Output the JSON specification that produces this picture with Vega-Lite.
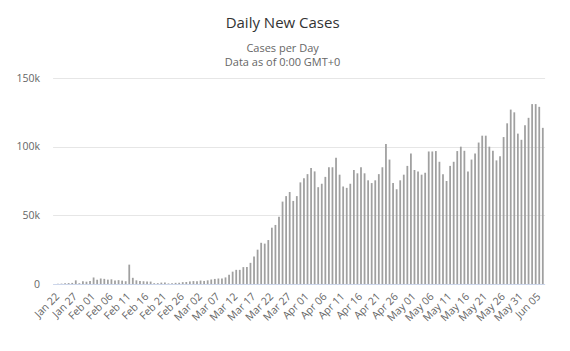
{
 "$schema": "https://vega.github.io/schema/vega-lite/v6.json",
 "width": 492,
 "height": 206,
 "autosize": "none",
 "padding": {"left": 52.6, "top": 78, "right": 25.4, "bottom": 67},
 "background": "white",
 "title": {
  "text": "Daily New Cases",
  "subtitle": ["Cases per Day", "Data as of 0:00 GMT+0"],
  "anchor": "middle",
  "frame": "group",
  "dx": -16,
  "font": "Open Sans",
  "fontSize": 15,
  "fontWeight": "normal",
  "color": "#333333",
  "subtitleFont": "Open Sans",
  "subtitleFontSize": 11,
  "subtitleColor": "#666666",
  "subtitlePadding": 12,
  "subtitleLineHeight": 14,
  "offset": 5
 },
 "data": {"values": [
  {"date": "Jan 22", "cases": 17},
  {"date": "Jan 23", "cases": 98},
  {"date": "Jan 24", "cases": 287},
  {"date": "Jan 25", "cases": 493},
  {"date": "Jan 26", "cases": 684},
  {"date": "Jan 27", "cases": 809},
  {"date": "Jan 28", "cases": 2651},
  {"date": "Jan 29", "cases": 588},
  {"date": "Jan 30", "cases": 2068},
  {"date": "Jan 31", "cases": 1693},
  {"date": "Feb 01", "cases": 2111},
  {"date": "Feb 02", "cases": 4749},
  {"date": "Feb 03", "cases": 3094},
  {"date": "Feb 04", "cases": 4011},
  {"date": "Feb 05", "cases": 3743},
  {"date": "Feb 06", "cases": 3160},
  {"date": "Feb 07", "cases": 3418},
  {"date": "Feb 08", "cases": 2607},
  {"date": "Feb 09", "cases": 2818},
  {"date": "Feb 10", "cases": 2446},
  {"date": "Feb 11", "cases": 2026},
  {"date": "Feb 12", "cases": 14100},
  {"date": "Feb 13", "cases": 4500},
  {"date": "Feb 14", "cases": 2664},
  {"date": "Feb 15", "cases": 2098},
  {"date": "Feb 16", "cases": 2012},
  {"date": "Feb 17", "cases": 1870},
  {"date": "Feb 18", "cases": 1762},
  {"date": "Feb 19", "cases": 584},
  {"date": "Feb 20", "cases": 608},
  {"date": "Feb 21", "cases": 1019},
  {"date": "Feb 22", "cases": 1099},
  {"date": "Feb 23", "cases": 427},
  {"date": "Feb 24", "cases": 563},
  {"date": "Feb 25", "cases": 837},
  {"date": "Feb 26", "cases": 895},
  {"date": "Feb 27", "cases": 1347},
  {"date": "Feb 28", "cases": 1461},
  {"date": "Feb 29", "cases": 1876},
  {"date": "Mar 01", "cases": 2126},
  {"date": "Mar 02", "cases": 1922},
  {"date": "Mar 03", "cases": 2519},
  {"date": "Mar 04", "cases": 2235},
  {"date": "Mar 05", "cases": 2668},
  {"date": "Mar 06", "cases": 3300},
  {"date": "Mar 07", "cases": 3700},
  {"date": "Mar 08", "cases": 4000},
  {"date": "Mar 09", "cases": 4000},
  {"date": "Mar 10", "cases": 4800},
  {"date": "Mar 11", "cases": 6800},
  {"date": "Mar 12", "cases": 9000},
  {"date": "Mar 13", "cases": 10300},
  {"date": "Mar 14", "cases": 10300},
  {"date": "Mar 15", "cases": 12300},
  {"date": "Mar 16", "cases": 12300},
  {"date": "Mar 17", "cases": 15400},
  {"date": "Mar 18", "cases": 20000},
  {"date": "Mar 19", "cases": 25000},
  {"date": "Mar 20", "cases": 30000},
  {"date": "Mar 21", "cases": 29400},
  {"date": "Mar 22", "cases": 32000},
  {"date": "Mar 23", "cases": 41000},
  {"date": "Mar 24", "cases": 43000},
  {"date": "Mar 25", "cases": 49000},
  {"date": "Mar 26", "cases": 60000},
  {"date": "Mar 27", "cases": 64000},
  {"date": "Mar 28", "cases": 67000},
  {"date": "Mar 29", "cases": 60500},
  {"date": "Mar 30", "cases": 64000},
  {"date": "Mar 31", "cases": 74000},
  {"date": "Apr 01", "cases": 77000},
  {"date": "Apr 02", "cases": 80000},
  {"date": "Apr 03", "cases": 84500},
  {"date": "Apr 04", "cases": 82000},
  {"date": "Apr 05", "cases": 70500},
  {"date": "Apr 06", "cases": 73000},
  {"date": "Apr 07", "cases": 78000},
  {"date": "Apr 08", "cases": 85000},
  {"date": "Apr 09", "cases": 85000},
  {"date": "Apr 10", "cases": 92000},
  {"date": "Apr 11", "cases": 79600},
  {"date": "Apr 12", "cases": 71000},
  {"date": "Apr 13", "cases": 70000},
  {"date": "Apr 14", "cases": 73000},
  {"date": "Apr 15", "cases": 83000},
  {"date": "Apr 16", "cases": 80600},
  {"date": "Apr 17", "cases": 85000},
  {"date": "Apr 18", "cases": 80600},
  {"date": "Apr 19", "cases": 75500},
  {"date": "Apr 20", "cases": 73500},
  {"date": "Apr 21", "cases": 75500},
  {"date": "Apr 22", "cases": 80000},
  {"date": "Apr 23", "cases": 85000},
  {"date": "Apr 24", "cases": 102000},
  {"date": "Apr 25", "cases": 90600},
  {"date": "Apr 26", "cases": 73500},
  {"date": "Apr 27", "cases": 69000},
  {"date": "Apr 28", "cases": 75500},
  {"date": "Apr 29", "cases": 79600},
  {"date": "Apr 30", "cases": 86000},
  {"date": "May 01", "cases": 95000},
  {"date": "May 02", "cases": 83000},
  {"date": "May 03", "cases": 82000},
  {"date": "May 04", "cases": 79600},
  {"date": "May 05", "cases": 81000},
  {"date": "May 06", "cases": 96500},
  {"date": "May 07", "cases": 96500},
  {"date": "May 08", "cases": 96800},
  {"date": "May 09", "cases": 89000},
  {"date": "May 10", "cases": 80000},
  {"date": "May 11", "cases": 75000},
  {"date": "May 12", "cases": 86000},
  {"date": "May 13", "cases": 89000},
  {"date": "May 14", "cases": 96800},
  {"date": "May 15", "cases": 100000},
  {"date": "May 16", "cases": 97000},
  {"date": "May 17", "cases": 82000},
  {"date": "May 18", "cases": 90600},
  {"date": "May 19", "cases": 95000},
  {"date": "May 20", "cases": 103000},
  {"date": "May 21", "cases": 108000},
  {"date": "May 22", "cases": 108000},
  {"date": "May 23", "cases": 100000},
  {"date": "May 24", "cases": 97000},
  {"date": "May 25", "cases": 90000},
  {"date": "May 26", "cases": 93000},
  {"date": "May 27", "cases": 107000},
  {"date": "May 28", "cases": 117000},
  {"date": "May 29", "cases": 127000},
  {"date": "May 30", "cases": 125000},
  {"date": "May 31", "cases": 109500},
  {"date": "Jun 01", "cases": 105000},
  {"date": "Jun 02", "cases": 115600},
  {"date": "Jun 03", "cases": 121000},
  {"date": "Jun 04", "cases": 131000},
  {"date": "Jun 05", "cases": 131000},
  {"date": "Jun 06", "cases": 129000},
  {"date": "Jun 07", "cases": 113700}
 ]},
 "mark": {"type": "bar", "color": "#a0a0a0"},
 "encoding": {
  "x": {
   "field": "date",
   "type": "ordinal",
   "sort": null,
   "scale": {"paddingInner": 0.5, "paddingOuter": 0.25},
   "axis": {
    "title": null,
    "values": ["Jan 22", "Jan 27", "Feb 01", "Feb 06", "Feb 11", "Feb 16", "Feb 21", "Feb 26", "Mar 02", "Mar 07", "Mar 12", "Mar 17", "Mar 22", "Mar 27", "Apr 01", "Apr 06", "Apr 11", "Apr 16", "Apr 21", "Apr 26", "May 01", "May 06", "May 11", "May 16", "May 21", "May 26", "May 31", "Jun 05"],
    "labelAngle": -45,
    "labelFont": "Open Sans",
    "labelFontSize": 10.5,
    "labelColor": "#666666",
    "domainColor": "#ccd6eb",
    "ticks": false,
    "labelPadding": 7
   }
  },
  "y": {
   "field": "cases",
   "type": "quantitative",
   "scale": {"domain": [0, 150000]},
   "axis": {
    "title": null,
    "values": [0, 50000, 100000, 150000],
    "labelExpr": "datum.value == 0 ? '0' : format(datum.value / 1000, 'd') + 'k'",
    "domain": false,
    "ticks": false,
    "gridColor": "#e6e6e6",
    "labelPadding": 13,
    "labelFont": "Open Sans",
    "labelFontSize": 10.5,
    "labelColor": "#666666"
   }
  }
 },
 "config": {"view": {"stroke": null}}
}
